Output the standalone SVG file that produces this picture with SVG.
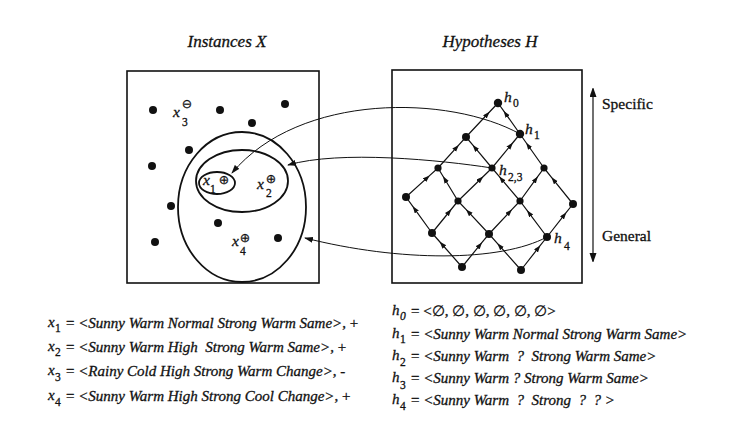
<svg xmlns="http://www.w3.org/2000/svg" width="756" height="442" viewBox="0 0 756 442">
<style>
text{font-family:"Liberation Serif","Times New Roman",serif;fill:#111;stroke:#111;stroke-width:0.3;}
.it{font-style:italic;}
.title{font-size:17px;font-style:italic;text-anchor:middle;}
.lbl{font-size:15.5px;}
.sub{font-size:11.5px;}
.sym{font-family:"DejaVu Sans",sans-serif;font-size:12.5px;text-anchor:middle;stroke-width:0.2;}
.row{font-size:15px;white-space:pre;}
.box{fill:none;stroke:#111;stroke-width:1.6;}
.ell{fill:none;stroke:#111;stroke-width:1.8;}
.edge{fill:none;stroke:#111;stroke-width:1.2;marker-mid:url(#mid);}
.curve{fill:none;stroke:#111;stroke-width:1;marker-end:url(#end);}
.dot{fill:#111;}
</style>
<defs>
<marker id="mid" markerUnits="userSpaceOnUse" markerWidth="7" markerHeight="6" refX="6" refY="2.5" orient="auto"><path d="M0,0 L7,2.5 L0,5 z" fill="#111"/></marker>
<marker id="end" markerUnits="userSpaceOnUse" markerWidth="9" markerHeight="7" refX="8" refY="3" orient="auto"><path d="M0,0 L9,3 L0,6 z" fill="#111"/></marker>
<marker id="vend" markerUnits="userSpaceOnUse" markerWidth="8" markerHeight="10" refX="9" refY="3.5" orient="auto-start-reverse"><path d="M0,0 L10,3.5 L0,7 z" fill="#111"/></marker>
</defs>
<rect width="756" height="442" fill="#fff"/>

<text class="title" x="227" y="47">Instances X</text>
<text class="title" x="490" y="47">Hypotheses H</text>

<g id="instances-panel">
<rect class="box" x="127" y="71" width="192" height="212"/>
<circle class="dot" cx="153" cy="110" r="4"/>
<circle class="dot" cx="220" cy="110" r="4"/>
<circle class="dot" cx="285" cy="104" r="4"/>
<circle class="dot" cx="252" cy="123" r="4"/>
<circle class="dot" cx="189" cy="150" r="4"/>
<circle class="dot" cx="152" cy="166" r="4"/>
<circle class="dot" cx="171" cy="206" r="4"/>
<circle class="dot" cx="218" cy="223" r="4"/>
<circle class="dot" cx="155" cy="242" r="4"/>
<circle class="dot" cx="278" cy="238" r="4"/>
</g>

<g id="hypothesis-sets">
<ellipse class="ell" cx="242" cy="207" rx="64" ry="75"/>
<ellipse class="ell" cx="242" cy="181" rx="46" ry="31"/>
<ellipse class="ell" cx="217" cy="183" rx="18" ry="11"/>
</g>

<g id="x1"><text class="lbl it" x="203" y="185">x</text><text class="sub" x="210" y="193">1</text><text class="sym" x="224" y="184">⊕</text></g>
<g id="x2"><text class="lbl it" x="257" y="189">x</text><text class="sub" x="266" y="197">2</text><text class="sym" x="271" y="183">⊕</text></g>
<g id="x3"><text class="lbl it" x="173" y="117">x</text><text class="sub" x="182" y="126">3</text><text class="sym" x="187" y="108">⊖</text></g>
<g id="x4"><text class="lbl it" x="232" y="246">x</text><text class="sub" x="240" y="255">4</text><text class="sym" x="245" y="242">⊕</text></g>

<g id="hypotheses-panel">
<rect class="box" x="392" y="70" width="190" height="213"/>
</g>

<g id="lattice-edges">
<path class="edge" d="M466,137 L489.0,112.5 L498,103"/>
<path class="edge" d="M438,168 L458.2,145.7 L466,137"/>
<path class="edge" d="M406,197 L429.0,176.1 L438,168"/>
<path class="edge" d="M492,168 L512.2,143.5 L520,134"/>
<path class="edge" d="M458,201 L482.5,177.2 L492,168"/>
<path class="edge" d="M432,233 L450.7,210.0 L458,201"/>
<path class="edge" d="M520,201 L537.3,177.2 L544,168"/>
<path class="edge" d="M489,234 L511.3,210.2 L520,201"/>
<path class="edge" d="M462,267 L481.4,243.2 L489,234"/>
<path class="edge" d="M547,237 L565.7,213.2 L573,204"/>
<path class="edge" d="M521,270 L539.7,246.2 L547,237"/>
<path class="edge" d="M520,134 L504.2,111.7 L498,103"/>
<path class="edge" d="M544,168 L526.7,143.5 L520,134"/>
<path class="edge" d="M573,204 L552.1,178.1 L544,168"/>
<path class="edge" d="M492,168 L473.3,145.7 L466,137"/>
<path class="edge" d="M520,201 L499.8,177.2 L492,168"/>
<path class="edge" d="M547,237 L527.6,211.1 L520,201"/>
<path class="edge" d="M458,201 L443.6,177.2 L438,168"/>
<path class="edge" d="M489,234 L466.7,210.2 L458,201"/>
<path class="edge" d="M521,270 L498.0,244.1 L489,234"/>
<path class="edge" d="M432,233 L413.3,207.1 L406,197"/>
<path class="edge" d="M462,267 L440.4,242.5 L432,233"/>
</g>

<g id="h0"><circle class="dot" cx="498" cy="103" r="4.2"/><text class="lbl it" x="504" y="102">h</text><text class="sub" x="513" y="107">0</text></g>
<g id="h1"><circle class="dot" cx="520" cy="134" r="4.2"/><text class="lbl it" x="525" y="134">h</text><text class="sub" x="534" y="139">1</text></g>
<g id="na"><circle class="dot" cx="466" cy="137" r="4"/></g>
<g id="nb"><circle class="dot" cx="438" cy="168" r="3.6"/></g>
<g id="h23"><circle class="dot" cx="492" cy="168" r="3.6"/><text class="lbl it" x="499" y="175">h</text><text class="sub" x="508" y="181">2,3</text></g>
<g id="nd"><circle class="dot" cx="544" cy="168" r="3.6"/></g>
<g id="ne"><circle class="dot" cx="406" cy="197" r="4"/></g>
<g id="nf"><circle class="dot" cx="458" cy="201" r="3.6"/></g>
<g id="ng"><circle class="dot" cx="520" cy="201" r="3.6"/></g>
<g id="nh"><circle class="dot" cx="573" cy="204" r="4"/></g>
<g id="ni"><circle class="dot" cx="432" cy="233" r="4"/></g>
<g id="nj"><circle class="dot" cx="489" cy="234" r="4"/></g>
<g id="h4"><circle class="dot" cx="547" cy="237" r="4"/><text class="lbl it" x="554" y="243">h</text><text class="sub" x="564" y="250">4</text></g>
<g id="nl"><circle class="dot" cx="462" cy="267" r="4"/></g>
<g id="nm"><circle class="dot" cx="521" cy="270" r="4"/></g>

<g id="connectors">
<path class="curve" d="M520,134 C450,95 300,92 232,173"/>
<path class="curve" d="M492,168 C440,160 340,150 288,165"/>
<path class="curve" d="M547,237 C500,262 400,262 305,238"/>
<line x1="593" y1="88" x2="593" y2="262" stroke="#111" stroke-width="1.2" marker-start="url(#vend)" marker-end="url(#vend)"/>
</g>

<g id="axis-labels">
<text class="lbl" x="602" y="109">Specific</text>
<text class="lbl" x="602" y="241">General</text>
</g>

<g id="instance-list">
<text class="row it" x="48" y="327">x</text><text class="sub" x="55" y="332">1</text><text class="row" x="66" y="328">= <tspan class="it">&lt;Sunny Warm Normal Strong Warm Same&gt;</tspan>, +</text>
<text class="row it" x="48" y="351">x</text><text class="sub" x="55" y="356">2</text><text class="row" x="66" y="352">= <tspan class="it">&lt;Sunny Warm High  Strong Warm Same&gt;</tspan>, +</text>
<text class="row it" x="48" y="375">x</text><text class="sub" x="55" y="381">3</text><text class="row" x="66" y="376">= <tspan class="it">&lt;Rainy Cold High Strong Warm Change&gt;</tspan>, -</text>
<text class="row it" x="48" y="400">x</text><text class="sub" x="55" y="406">4</text><text class="row" x="66" y="401">= <tspan class="it">&lt;Sunny Warm High Strong Cool Change&gt;</tspan>, +</text>
</g>

<g id="hypothesis-list">
<text class="row it" x="392" y="315">h</text><text class="sub it" x="400" y="320">0</text><text class="row" x="411" y="316">= &lt;∅, ∅, ∅, ∅, ∅, ∅&gt;</text>
<text class="row it" x="392" y="338">h</text><text class="sub" x="400" y="343">1</text><text class="row" x="411" y="339">= <tspan class="it">&lt;Sunny Warm Normal Strong Warm Same&gt;</tspan></text>
<text class="row it" x="392" y="360">h</text><text class="sub" x="400" y="366">2</text><text class="row" x="411" y="361">= <tspan class="it">&lt;Sunny Warm  ?  Strong Warm Same&gt;</tspan></text>
<text class="row it" x="392" y="382">h</text><text class="sub" x="400" y="389">3</text><text class="row" x="411" y="383">= <tspan class="it">&lt;Sunny Warm ? Strong Warm Same&gt;</tspan></text>
<text class="row it" x="392" y="404">h</text><text class="sub" x="400" y="410">4</text><text class="row" x="411" y="405">= <tspan class="it">&lt;Sunny Warm  ?  Strong  ?  ? &gt;</tspan></text>
</g>
</svg>
